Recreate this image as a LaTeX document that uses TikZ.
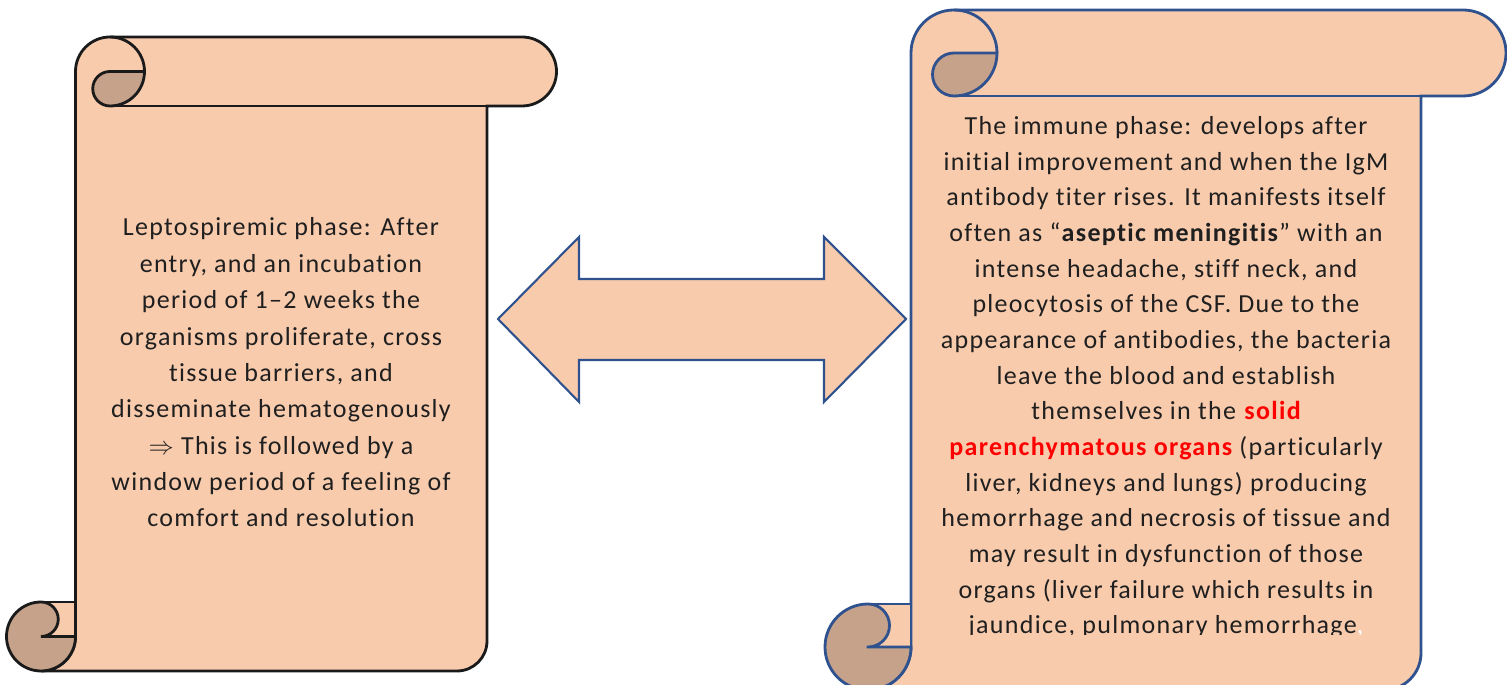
\documentclass[tikz,border=0pt]{standalone}
\usepackage{fontspec}
\setmainfont[LetterSpace=5, Ligatures=NoCommon]{Carlito}
\definecolor{scrollfill}{HTML}{F8CBAD}
\definecolor{scrollcurl}{HTML}{C6A28A}
\definecolor{scrollblue}{HTML}{2F528F}
\definecolor{scrollblack}{HTML}{1A1A1A}
\definecolor{keyred}{HTML}{FF0000}

\begin{document}
\begin{tikzpicture}[
    x=0.02cm, y=0.02cm,
    paper/.style={fill=scrollfill, draw=#1, line width=1.6pt},
    curl/.style={fill=scrollcurl, draw=#1, line width=1.6pt},
    edge/.style={draw=#1, line width=1.6pt},
    phasetext/.style={align=center, text=black!88, inner sep=0pt,
                      font=\fontsize{14.8}{20.7}\selectfont},
]
\useasboundingbox (0,0) rectangle (1507,685);
\clip (0,0) rectangle (1507,685);

% === LEPTOSPIREMIC PHASE ===
\path[paper=scrollblack] (75.5,613.5) arc[start angle=180, end angle=90, radius=34.5]
    -- (522,648) arc[start angle=90, end angle=-90, radius=34.5]
    -- (487,579) -- (487,44) arc[start angle=0, end angle=-90, radius=30]
    -- (41,14) arc[start angle=-90, end angle=0, radius=34.5] -- cycle;
\draw[edge=scrollblack] (110,579) -- (487,579);

\path[curl=scrollblack] (110,613.5) -- (144.5,613.5)
    arc[start angle=0, end angle=-90, radius=34.5]
    arc[start angle=270, end angle=90, radius=17.25] -- cycle;
\draw[edge=scrollblack] (110,648) arc[start angle=90, end angle=0, radius=34.5];

\path[paper=scrollblack] (41,48.5) -- (41,83) -- (75.5,83) -- (75.5,48.5) -- cycle;
\path[curl=scrollblack] (41,48.5) -- (75.5,48.5)
    arc[start angle=0, end angle=-270, radius=34.5]
    arc[start angle=90, end angle=-90, radius=17.25] -- cycle;

\node[phasetext] (lepto) at (281,312.5) {Leptospiremic phase: After\\
    entry, and an incubation\\
    period of 1–2 weeks the\\
    organisms proliferate, cross\\
    tissue barriers, and\\
    disseminate hematogenously\\
    $\Rightarrow$ This is followed by a\\
    window period of a feeling of\\
    comfort and resolution};

% === DOUBLE ARROW ===
\path[paper=scrollblue, line width=1.2pt] (498,366) -- (579,448) -- (579,406)
    -- (824,406) -- (824,448) -- (906,366) -- (824,283) -- (824,325)
    -- (579,325) -- (579,283) -- cycle;

% === IMMUNE PHASE ===
\path[paper=scrollblue] (911,632) arc[start angle=180, end angle=90, radius=43]
    -- (1463,675) arc[start angle=90, end angle=-90, radius=43]
    -- (1421,589) -- (1421,32) arc[start angle=0, end angle=-90, radius=37]
    -- (868,-5) arc[start angle=-90, end angle=0, radius=43] -- cycle;
\draw[edge=scrollblue] (954,589) -- (1421,589);

\path[curl=scrollblue] (954,632) -- (997,632)
    arc[start angle=0, end angle=-90, radius=43]
    arc[start angle=270, end angle=90, radius=21.5] -- cycle;
\draw[edge=scrollblue] (954,675) arc[start angle=90, end angle=0, radius=43];

\path[paper=scrollblue] (868,38) -- (868,81) -- (911,81) -- (911,38) -- cycle;
\path[curl=scrollblue] (868,38) -- (911,38)
    arc[start angle=0, end angle=-270, radius=43]
    arc[start angle=90, end angle=-90, radius=21.5] -- cycle;

\begin{scope}
\clip (911,50) rectangle (1421,589);
\node[phasetext, font=\fontsize{14.8}{20.3}\selectfont] (immune) at (1166,307.5)
    {The immune phase: develops after\\
    initial improvement and when the IgM\\
    antibody titer rises. It manifests itself\\
    often as “\textbf{aseptic meningitis}” with an\\
    intense headache, stiff neck, and\\
    pleocytosis of the CSF. Due to the\\
    appearance of antibodies, the bacteria\\
    leave the blood and establish\\
    themselves in the \textbf{\color{keyred}solid}\\
    \textbf{\color{keyred}parenchymatous organs} (particularly\\
    liver, kidneys and lungs) producing\\
    hemorrhage and necrosis of tissue and\\
    may result in dysfunction of those\\
    organs (liver failure which results in\\
    jaundice, pulmonary hemorrhage{\color{white},}};
\end{scope}

\end{tikzpicture}
\end{document}
